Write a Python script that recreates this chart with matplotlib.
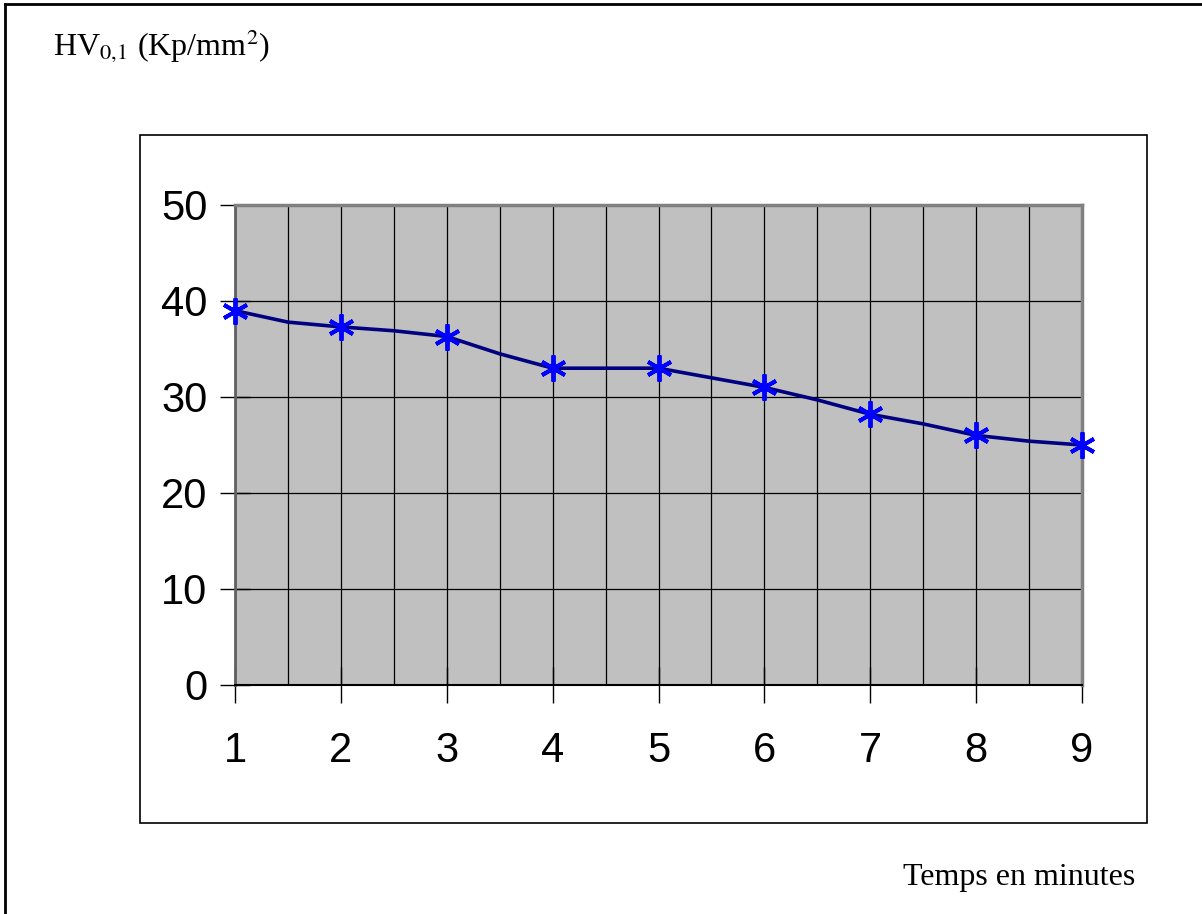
import matplotlib
matplotlib.use('Agg')
import matplotlib.pyplot as plt
import matplotlib.patches as patches
from matplotlib import font_manager

# temps (minutes) et durete mesuree
temps = [1, 2, 3, 4, 5, 6, 7, 8, 9]
durete = [39.0, 37.3, 36.3, 33.0, 33.0, 31.0, 28.2, 26.0, 25.0]

# courbe lissee (lue sur la figure, pas de 0,5)
temps_courbe = [1, 1.5, 2, 2.5, 3, 3.5, 4, 4.5, 5, 5.5, 6, 6.5, 7, 7.5, 8, 8.5, 9]
durete_courbe = [39.0, 37.8, 37.3, 36.9, 36.3, 34.5, 33.0, 33.0, 33.0, 32.0,
                 31.0, 29.7, 28.2, 27.2, 26.0, 25.4, 25.0]

y_ticks = [0, 10, 20, 30, 40, 50]

noms = {f.name for f in font_manager.fontManager.ttflist}
police_axes = 'Liberation Sans Narrow' if 'Liberation Sans Narrow' in noms else 'Liberation Sans'

plt.rcParams['mathtext.fontset'] = 'stix'

W, H = 1202, 914
fig = plt.figure(figsize=(W / 100, H / 100), dpi=100)

# cadre exterieur (haut et gauche seulement)
fig.add_artist(plt.Line2D([5 / W, 5 / W], [0, 1 - 4 / H], transform=fig.transFigure, color='black', lw=2))
fig.add_artist(plt.Line2D([5 / W, 1], [1 - 4 / H, 1 - 4 / H], transform=fig.transFigure, color='black', lw=2))

# cadre du graphique
fig.add_artist(patches.Rectangle((140 / W, 1 - 823 / H), (1147 - 140) / W, (823 - 135) / H,
                                 transform=fig.transFigure, fill=False, edgecolor='black', lw=1.2))

ax = fig.add_axes([235 / W, 1 - 685 / H, (1082 - 235) / W, (685 - 205) / H])
ax.set_facecolor('#C0C0C0')

ax.plot(temps_courbe, durete_courbe, color='#000080', lw=2.6, zorder=3)
ax.plot(temps, durete, linestyle='none', marker=(6, 2, 0), markersize=19,
        markeredgewidth=2.8, color='#0000FF', zorder=4, clip_on=False)

ax.set_xlim(1, 9)
ax.set_ylim(0, 50)

ax.set_xticks(temps)
ax.set_xticks(temps_courbe, minor=True)
ax.set_yticks(y_ticks)
ax.set_xticklabels([str(t) for t in temps], fontsize=30, family=police_axes)
ax.set_yticklabels([str(v) for v in y_ticks], fontsize=30, family=police_axes)

ax.grid(True, which='both', axis='x', color='black', lw=0.9)
ax.grid(True, which='major', axis='y', color='black', lw=0.9)
ax.set_axisbelow(True)

ax.tick_params(axis='x', which='major', direction='inout', length=26, width=1, pad=20, colors='black')
ax.tick_params(axis='x', which='minor', length=0)
ax.tick_params(axis='y', direction='inout', length=22, width=1, pad=9, colors='black')

ax.spines['top'].set_color('#808080')
ax.spines['top'].set_linewidth(2.5)
ax.spines['right'].set_color('#808080')
ax.spines['right'].set_linewidth(2.5)
ax.spines['left'].set_color('#606060')
ax.spines['left'].set_linewidth(2)
ax.spines['bottom'].set_color('black')
ax.spines['bottom'].set_linewidth(1.5)

fig.text(53 / W, 1 - 56 / H, r'HV$_{0{,}1}$ (Kp/mm$^2$)', fontsize=23, family='Liberation Serif',
         ha='left', va='baseline')
fig.text(1135 / W, 1 - 885 / H, 'Temps en minutes', fontsize=23, family='Liberation Serif',
         ha='right', va='baseline')

plt.savefig('out.png', dpi=100)
